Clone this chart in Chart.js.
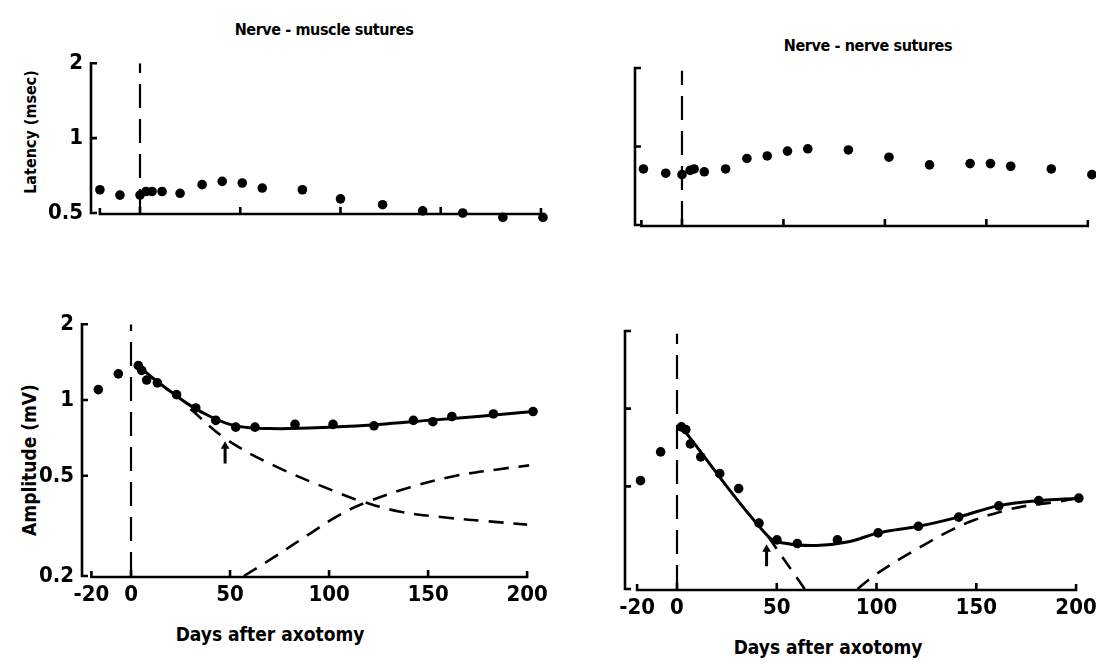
<!DOCTYPE html>
<html>
<head>
<meta charset="utf-8">
<script src="https://cdn.jsdelivr.net/npm/chart.js@4.4.0/dist/chart.umd.min.js"></script>
<style>
  body {
    margin: 0;
    background: #fff;
    width: 1096px;
    height: 664px;
    position: relative;
    overflow: hidden;
    font-family: "DejaVu Sans Condensed", "Liberation Sans Narrow", sans-serif;
    font-weight: bold;
    color: #000;
  }
  canvas { position: absolute; }
  .lbl { position: absolute; transform: translate(-50%, -50%); white-space: nowrap; }
  .rot { transform: translate(-50%, -50%) rotate(-90deg); }
</style>
</head>
<body>
<div class="lbl" style="left:324px;top:29px;font-size:16px;letter-spacing:-0.4px">Nerve - muscle sutures</div>
<div class="lbl" style="left:868px;top:45px;font-size:16px;letter-spacing:-0.4px">Nerve - nerve sutures</div>
<div class="lbl rot" style="left:30px;top:132px;font-size:16px">Latency (msec)</div>
<div class="lbl rot" style="left:29px;top:460px;font-size:19px">Amplitude (mV)</div>
<div class="lbl" style="left:270px;top:634px;font-size:19px">Days after axotomy</div>
<div class="lbl" style="left:828px;top:647px;font-size:19px">Days after axotomy</div>

<canvas id="nmLat"></canvas>
<canvas id="nnLat"></canvas>
<canvas id="nmAmp"></canvas>
<canvas id="nnAmp"></canvas>

<script>
// x axis ticks (days after axotomy)
const dayTicks = [-20, 0, 50, 100, 150, 200];
const latTicks = [2, 1, 0.5];
const ampTicks = [2, 1, 0.5, 0.2];

// Nerve-muscle latency (msec)
const nmLatDays = [-20, -10, 0, 3, 6, 11, 20, 31, 41, 51, 61, 81, 100, 121, 141, 161, 181, 201];
const nmLatMs = [0.62, 0.59, 0.59, 0.61, 0.61, 0.61, 0.60, 0.65, 0.67, 0.66, 0.63, 0.62, 0.57, 0.54, 0.51, 0.50, 0.48, 0.48];

// Nerve-nerve latency (msec)
const nnLatDays = [-19, -8, 0, 4, 6, 11, 21.5, 32, 42, 52, 62, 82, 102, 122, 142, 152, 162, 182, 202];
const nnLatMs = [0.82, 0.79, 0.78, 0.81, 0.82, 0.80, 0.82, 0.90, 0.92, 0.96, 0.98, 0.97, 0.91, 0.85, 0.86, 0.86, 0.84, 0.82, 0.78];

// Nerve-muscle amplitude (mV)
const nmAmpDays = [-16.5, -6.4, 3.7, 5.4, 7.9, 13.3, 23, 32.7, 42.8, 52.9, 62.6, 82.8, 102, 122.7, 142.6, 152.4, 162, 183, 203];
const nmAmpMv = [1.10, 1.27, 1.37, 1.31, 1.20, 1.17, 1.05, 0.93, 0.83, 0.78, 0.78, 0.80, 0.80, 0.79, 0.83, 0.82, 0.86, 0.88, 0.90];
const nmFitDays = [3.7, 10, 20, 30, 40, 50, 60, 70, 80, 100, 125, 150, 175, 203];
const nmFitMv = [1.37, 1.24, 1.08, 0.95, 0.86, 0.80, 0.775, 0.77, 0.77, 0.78, 0.80, 0.83, 0.86, 0.90];
const nmDecayDays = [30, 48, 72, 104, 116, 136, 161, 180, 200];
const nmDecayMv = [0.92, 0.70, 0.55, 0.43, 0.397, 0.36, 0.34, 0.33, 0.32];
const nmRiseDays = [57, 72, 89, 104, 118, 141, 164, 185, 201];
const nmRiseMv = [0.20, 0.237, 0.29, 0.345, 0.39, 0.45, 0.50, 0.53, 0.55];
const nmArrowDays = [47.5, 47.5];
const nmArrowMv = [0.56, 0.655];

// Nerve-nerve amplitude (mV)
const nnAmpDays = [-18.3, -8.2, 2.2, 4.4, 6.7, 11.9, 21.4, 30.9, 41.1, 50.1, 60.3, 80.4, 100.8, 121, 141.2, 161.3, 181.3, 201.4];
const nnAmpMv = [0.526, 0.68, 0.85, 0.83, 0.73, 0.65, 0.56, 0.49, 0.36, 0.31, 0.30, 0.31, 0.33, 0.35, 0.38, 0.42, 0.44, 0.45];
const nnFitDays = [2.2, 45.6, 55, 70, 86, 101, 121, 141, 161, 181, 201.4];
const nnFitMv = [0.85, 0.32, 0.30, 0.295, 0.305, 0.33, 0.35, 0.38, 0.42, 0.44, 0.45];
const nnDecayDays = [45.6, 64];
const nnDecayMv = [0.32, 0.2];
const nnRiseDays = [90.5, 99, 113, 125, 136.7, 149, 163, 175, 190, 201];
const nnRiseMv = [0.20, 0.226, 0.265, 0.30, 0.336, 0.37, 0.40, 0.42, 0.435, 0.45];
const nnArrowDays = [44.9, 44.9];
const nnArrowMv = [0.245, 0.285];

const FONT = '"DejaVu Sans Condensed", "Liberation Sans Narrow", sans-serif';
const PADL = 60, PADT = 15, PADR = 20, PADB = 50;
const X_MAX = 206;

const pts = (xs, ys) => xs.map((x, i) => ({ x, y: ys[i] }));

const dots = (xs, ys) => ({
  data: pts(xs, ys), showLine: false, pointRadius: 4.8,
  pointBackgroundColor: "#000", pointBorderWidth: 0, clip: false,
});
const curve = (xs, ys, dash) => ({
  data: pts(xs, ys), showLine: true, pointRadius: 0, borderColor: "#000",
  borderWidth: dash ? 2.6 : 3, borderDash: dash ? [15, 10] : [],
  tension: 0.4, clip: false,
});
const zeroLine = (lo, hi) => ({
  data: [{ x: 0, y: lo }, { x: 0, y: hi }], showLine: true, pointRadius: 0,
  borderColor: "#000", borderWidth: 2.2, borderDash: [24, 11],
});
const arrow = (xs, ys) => ({
  data: pts(xs, ys), showLine: true, borderColor: "#000", borderWidth: 3,
  pointRadius: [0, 5], pointStyle: "triangle", pointBackgroundColor: "#000", pointBorderWidth: 0,
});

// axis lines drawn like the figure: bracket ends, inward ticks
const frame = {
  id: "frame",
  beforeDatasetsDraw(chart) {
    const { ctx, chartArea } = chart;
    const xs = chart.scales.x, ys = chart.scales.y;
    const l = chartArea.left, t = chartArea.top, b = chartArea.bottom;
    ctx.save();
    ctx.strokeStyle = "#000";
    ctx.lineWidth = 2.6;
    ctx.beginPath();
    ctx.moveTo(l + 6, t); ctx.lineTo(l, t); ctx.lineTo(l, b); ctx.lineTo(l + 6, b);
    ys.ticks.forEach(tk => {
      if (tk.value < ys.max && tk.value > ys.min) {
        const py = ys.getPixelForValue(tk.value);
        ctx.moveTo(l, py); ctx.lineTo(l + 6, py);
      }
    });
    const x1 = xs.getPixelForValue(-20), x2 = xs.getPixelForValue(200);
    const yb = b + 1;
    ctx.moveTo(x1, yb - 6); ctx.lineTo(x1, yb); ctx.lineTo(x2, yb); ctx.lineTo(x2, yb - 6);
    xs.ticks.forEach(tk => {
      if (tk.value > -20 && tk.value < 200) {
        const px = xs.getPixelForValue(tk.value);
        ctx.moveTo(px, yb); ctx.lineTo(px, yb - 7);
      }
    });
    ctx.stroke();
    ctx.restore();
  },
};

function panel(id, box, yMin, yTicks, showY, showX, datasets) {
  const pxPerDay = (box.x200 - box.x0) / 200;
  const xMin = -(box.x0 - box.axisX) / pxPerDay;
  const right = box.x0 + X_MAX * pxPerDay;
  const cv = document.getElementById(id);
  cv.width = Math.round(right - box.axisX) + PADL + PADR;
  cv.height = box.bottom - box.top + PADT + PADB;
  cv.style.left = (box.axisX - PADL) + "px";
  cv.style.top = (box.top - PADT) + "px";

  new Chart(cv, {
    type: "scatter",
    data: { datasets },
    options: {
      responsive: false,
      animation: false,
      layout: { padding: { top: PADT, right: PADR, left: 0, bottom: 0 } },
      plugins: { legend: { display: false }, tooltip: { enabled: false } },
      scales: {
        x: {
          type: "linear", min: xMin, max: X_MAX,
          grid: { display: false, drawTicks: false },
          border: { display: false },
          afterBuildTicks: s => { s.ticks = dayTicks.map(v => ({ value: v })); },
          afterFit: s => { s.height = PADB; },
          ticks: {
            display: showX, autoSkip: false, maxRotation: 0, padding: 6,
            color: "#000", font: { family: FONT, size: 22, weight: "bold" },
            callback: v => String(v),
          },
        },
        y: {
          type: "logarithmic", min: yMin, max: 2,
          grid: { display: false, drawTicks: false },
          border: { display: false },
          afterBuildTicks: s => { s.ticks = yTicks.map(v => ({ value: v })); },
          afterFit: s => { s.width = PADL; },
          ticks: {
            display: showY, padding: 8,
            color: "#000", font: { family: FONT, size: 22, weight: "bold" },
            callback: v => String(v),
          },
        },
      },
    },
    plugins: [frame],
  });
}

panel("nmLat", { axisX: 91, x0: 140, x200: 541, top: 57, bottom: 213 }, 0.5, latTicks, true, false, [
  zeroLine(0.5, 2),
  dots(nmLatDays, nmLatMs),
]);

panel("nnLat", { axisX: 635, x0: 682, x200: 1088, top: 68, bottom: 225 }, 0.5, latTicks, false, false, [
  zeroLine(0.5, 1.95),
  dots(nnLatDays, nnLatMs),
]);

panel("nmAmp", { axisX: 82, x0: 131, x200: 527, top: 318, bottom: 576 }, 0.2, ampTicks, true, true, [
  zeroLine(0.2, 2),
  curve(nmDecayDays, nmDecayMv, true),
  curve(nmRiseDays, nmRiseMv, true),
  curve(nmFitDays, nmFitMv, false),
  arrow(nmArrowDays, nmArrowMv),
  dots(nmAmpDays, nmAmpMv),
]);

panel("nnAmp", { axisX: 625, x0: 677, x200: 1076, top: 331, bottom: 589 }, 0.2, ampTicks, false, true, [
  zeroLine(0.2, 1.95),
  curve(nnDecayDays, nnDecayMv, true),
  curve(nnRiseDays, nnRiseMv, true),
  curve(nnFitDays, nnFitMv, false),
  arrow(nnArrowDays, nnArrowMv),
  dots(nnAmpDays, nnAmpMv),
]);
</script>
</body>
</html>
